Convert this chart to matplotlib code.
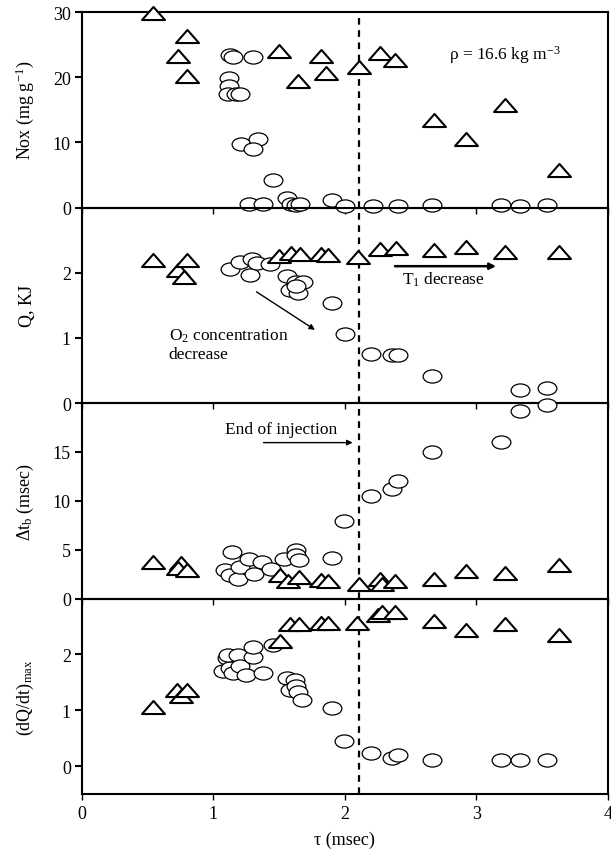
import matplotlib
matplotlib.use("Agg")
import matplotlib.pyplot as plt
import numpy as np
from matplotlib.path import Path
from matplotlib.transforms import Affine2D

plt.rcParams['font.family'] = ['Liberation Serif', 'DejaVu Serif']
plt.rcParams['mathtext.fontset'] = 'custom'
plt.rcParams['mathtext.rm'] = 'Liberation Serif'
plt.rcParams['mathtext.it'] = 'Liberation Serif:italic'
plt.rcParams['mathtext.default'] = 'regular'

# --- данные ---
# Nox
tri_tau_nox = [0.54, 0.73, 0.80, 0.80, 1.50, 1.64, 1.82, 1.86, 2.11, 2.27, 2.38, 2.68, 2.92, 3.22, 3.63]
tri_nox = [29.8, 23.2, 26.4, 20.2, 24.1, 19.4, 23.2, 20.7, 21.5, 23.7, 22.6, 13.4, 10.5, 15.8, 5.8]
circ_tau_nox = [1.13, 1.15, 1.30, 1.12, 1.12, 1.11, 1.17, 1.20, 1.21, 1.34, 1.30, 1.45,
                1.27, 1.38, 1.56, 1.59, 1.63, 1.66, 1.90, 2.00, 2.21, 2.40, 2.66, 3.19, 3.33, 3.54]
circ_nox = [23.4, 23.1, 23.1, 19.9, 18.7, 17.4, 17.4, 17.4, 9.8, 10.5, 9.0, 4.2,
            0.5, 0.6, 1.4, 0.6, 0.35, 0.5, 1.1, 0.2, 0.2, 0.2, 0.35, 0.35, 0.2, 0.35]

# Q, KJ
tri_tau_q = [0.54, 0.73, 0.80, 0.78, 1.50, 1.59, 1.66, 1.82, 1.87, 2.10, 2.27, 2.39, 2.68, 2.92, 3.22, 3.63]
tri_q = [2.19, 2.04, 2.19, 1.93, 2.26, 2.31, 2.29, 2.28, 2.27, 2.24, 2.36, 2.38, 2.35, 2.40, 2.32, 2.32]
circ_tau_q = [1.13, 1.20, 1.29, 1.28, 1.33, 1.43, 1.56, 1.63, 1.68, 1.58, 1.64, 1.63,
              1.90, 2.00, 2.20, 2.36, 2.40, 2.66, 3.33, 3.54]
circ_q = [2.06, 2.17, 2.21, 1.97, 2.15, 2.14, 1.95, 1.85, 1.86, 1.74, 1.69, 1.80,
          1.54, 1.06, 0.76, 0.74, 0.74, 0.42, 0.20, 0.23]

# Delta t_b
tri_tau_dt = [0.54, 0.75, 0.73, 0.80, 1.51, 1.57, 1.65, 1.82, 1.87, 2.11, 2.27, 2.28, 2.38, 2.68, 2.92, 3.22, 3.63]
tri_dt = [3.73, 3.66, 3.12, 2.88, 2.44, 1.76, 2.2, 1.87, 1.76, 1.49, 2.04, 1.49, 1.76, 2.04, 2.78, 2.65, 3.39]
circ_tau_dt = [1.14, 1.09, 1.13, 1.19, 1.20, 1.27, 1.31, 1.37, 1.44, 1.54, 1.63, 1.63, 1.65,
               1.90, 1.99, 2.20, 2.36, 2.40, 2.66, 3.19, 3.33, 3.54]
circ_dt = [4.75, 2.88, 2.38, 2.04, 3.22, 4.0, 2.55, 3.73, 3.05, 4.07, 4.92, 4.41, 3.9,
           4.14, 7.97, 10.45, 11.2, 12.05, 15.0, 16.0, 19.2, 19.75]

# (dQ/dt)max
tri_tau_dqdt = [0.54, 0.72, 0.75, 0.80, 1.51, 1.58, 1.65, 1.82, 1.87, 2.09, 2.25, 2.28, 2.38, 2.68, 2.92, 3.22, 3.63]
tri_dqdt = [1.06, 1.36, 1.26, 1.36, 2.24, 2.54, 2.54, 2.57, 2.56, 2.57, 2.70, 2.76, 2.76, 2.60, 2.44, 2.54, 2.35]
circ_tau_dqdt = [1.07, 1.10, 1.13, 1.11, 1.15, 1.19, 1.20, 1.25, 1.30, 1.30, 1.38, 1.45,
                 1.56, 1.58, 1.62, 1.63, 1.64, 1.67, 1.90, 1.99, 2.20, 2.36, 2.40, 2.66, 3.19, 3.33, 3.54]
circ_dqdt = [1.71, 1.93, 1.75, 1.98, 1.66, 1.99, 1.80, 1.63, 1.96, 2.14, 1.66, 2.16,
             1.57, 1.36, 1.54, 1.43, 1.32, 1.18, 1.04, 0.45, 0.23, 0.15, 0.20, 0.11, 0.11, 0.11, 0.11]

tau_end_injection = 2.11

# маркеры: сплюснутые круг и треугольник
ellipse = Path.unit_circle().transformed(Affine2D().scale(1.0, 0.7))
triangle = Path([(0, 0.57), (-1, -0.57), (1, -0.57), (0, 0.57)],
                [Path.MOVETO, Path.LINETO, Path.LINETO, Path.CLOSEPOLY])

panels = [
    (tri_tau_nox, tri_nox, circ_tau_nox, circ_nox, (0, 30), [0, 10, 20, 30], 'Nox (mg g$^{-1}$)'),
    (tri_tau_q, tri_q, circ_tau_q, circ_q, (0, 3), [0, 1, 2], 'Q, KJ'),
    (tri_tau_dt, tri_dt, circ_tau_dt, circ_dt, (0, 20), [0, 5, 10, 15], 'Δt$_\\mathrm{b}$ (msec)'),
    (tri_tau_dqdt, tri_dqdt, circ_tau_dqdt, circ_dqdt, (-0.5, 3), [0, 1, 2], '(dQ/dt)$_\\mathrm{max}$'),
]

fig = plt.figure(figsize=(6.11, 8.54), dpi=100)
left, width = 0.134, 0.861
bottom0, h = 0.0691, 0.2289
axes = []
for i, (tx, ty, cx, cy, ylim, yticks, ylabel) in enumerate(panels):
    ax = fig.add_axes([left, bottom0 + (3 - i) * h, width, h])
    axes.append(ax)
    ax.axvline(tau_end_injection, color='black', lw=1.6, ls=(0, (3, 2.5)), zorder=1)
    ax.plot(cx, cy, ls='none', marker=ellipse, ms=13.5, mfc='white', mec='black',
            mew=0.9, clip_on=False, zorder=3)
    ax.plot(tx, ty, ls='none', marker=triangle, ms=16.5, mfc='white', mec='black',
            mew=1.5, clip_on=False, zorder=4)
    ax.set_xlim(0, 4)
    ax.set_ylim(*ylim)
    ax.set_yticks(yticks)
    ax.set_xticks([0, 1, 2, 3, 4])
    ax.set_ylabel(ylabel, fontsize=13)
    ax.yaxis.set_label_coords(-0.088, 0.5)
    for s in ax.spines.values():
        s.set_linewidth(1.5)
    ax.tick_params(axis='y', direction='out', length=5, width=1.5, labelsize=13, pad=3)
    ax.tick_params(axis='x', direction='out', length=4, width=1.0, labelsize=13, pad=4)
    if i < 3:
        ax.tick_params(axis='x', labelbottom=False)
    ax.set_facecolor('none')

axes[3].set_xlabel('τ (msec)', fontsize=13, labelpad=6)

# подписи и стрелки
axes[0].text(2.79, 23.5, 'ρ = 16.6 kg m$^{-3}$', fontsize=12.5, va='center', ha='left')

axes[1].annotate('', xy=(3.17, 2.1), xytext=(2.36, 2.1),
                 arrowprops=dict(arrowstyle='-|>', color='black', lw=1.8, mutation_scale=9))
axes[1].text(2.75, 1.9, 'T$_1$ decrease', fontsize=12.5, ha='center', va='center')
axes[1].annotate('', xy=(1.79, 1.10), xytext=(1.31, 1.73),
                 arrowprops=dict(arrowstyle='-|>', color='black', lw=1.0, mutation_scale=8))
axes[1].text(0.66, 0.9, 'O$_2$ concentration\ndecrease', fontsize=12.5, ha='left', va='center',
             linespacing=1.15)

axes[2].text(1.515, 17.3, 'End of injection', fontsize=12.5, ha='center', va='center')
axes[2].annotate('', xy=(2.08, 15.95), xytext=(1.36, 15.95),
                 arrowprops=dict(arrowstyle='-|>', color='black', lw=1.0, mutation_scale=8))

fig.savefig('out.png', dpi=100)
